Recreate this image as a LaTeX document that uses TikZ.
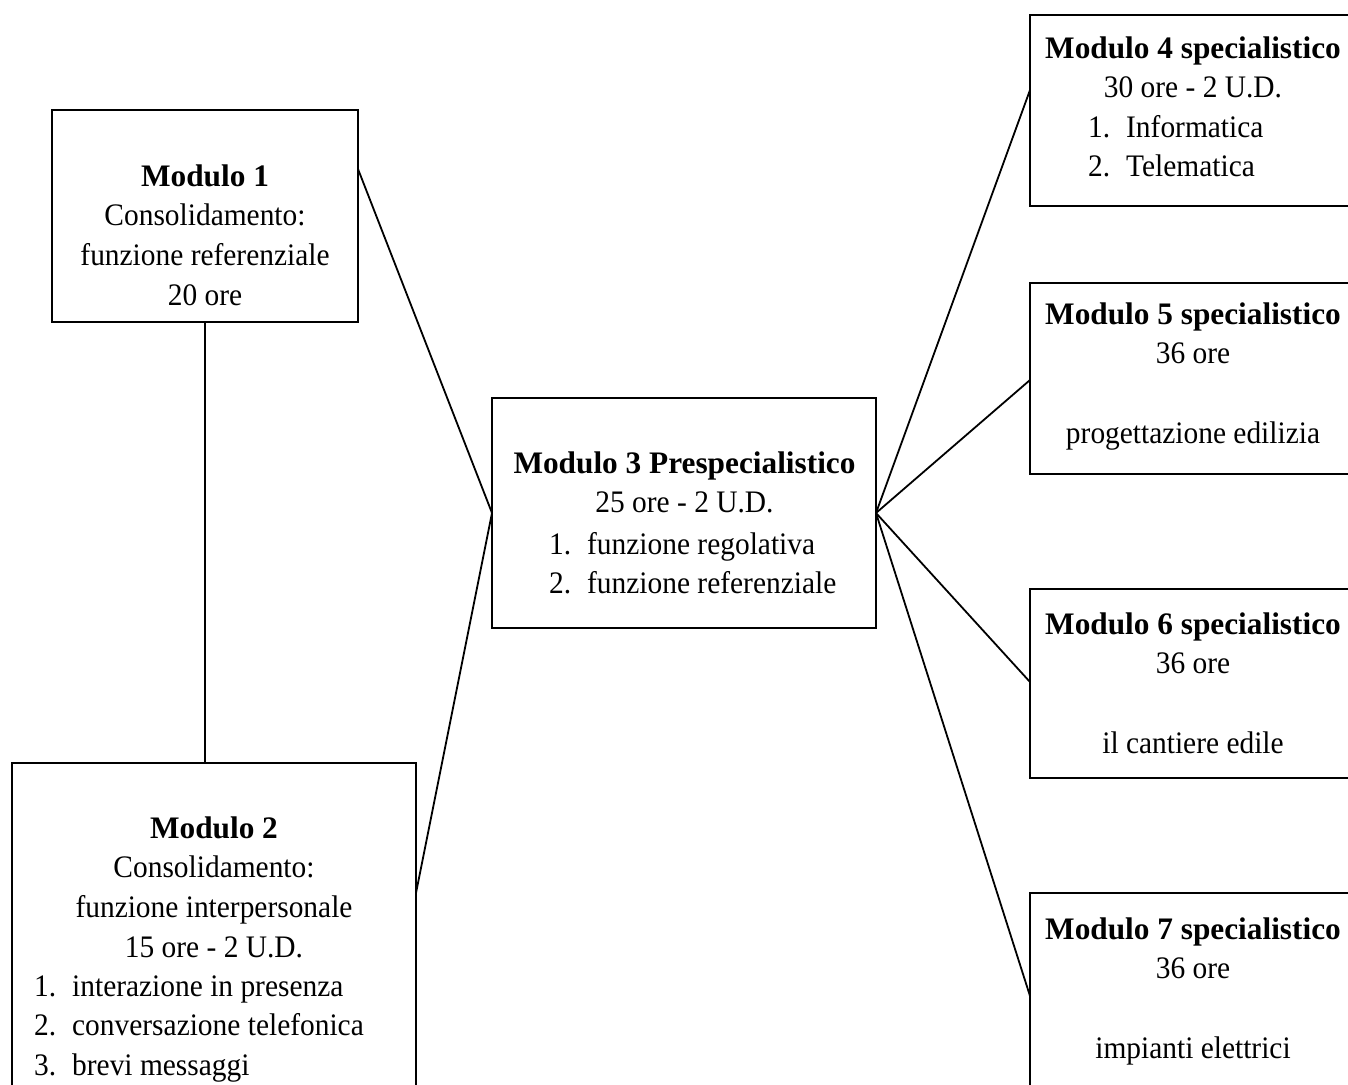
\documentclass[tikz,border=0pt]{standalone}
\usepackage{fontspec}
\setmainfont{Liberation Serif}[UprightFeatures={FakeStretch=0.94}]
\newcommand{\firstln}{\rule{0pt}{24pt}}
\newcommand{\itm}[1]{\makebox[38pt][l]{#1}}
\begin{document}
\begin{tikzpicture}[x=1pt,y=-1pt,
  modbox/.style={draw, line width=1.8pt, rectangle, inner sep=0pt, outer sep=0pt},
  modtext/.style={inner sep=0pt, anchor=north, align=center,
    font=\fontsize{31.3}{39.6}\selectfont},
  modlist/.style={inner sep=0pt, anchor=north west, align=left,
    font=\fontsize{31.3}{39.6}\selectfont},
  link/.style={line width=1.8pt}]
\useasboundingbox (0,0) rectangle (1348,1084);
\clip (0,0) rectangle (1348,1084);

% module boxes
\node[modbox, minimum width=306pt, minimum height=212pt] (b1) at (205,216) {};
\node[modbox, minimum width=404pt, minimum height=347pt] (b2) at (214,936.5) {};
\node[modbox, minimum width=384pt, minimum height=230pt] (b3) at (684,513) {};
\node[modbox, minimum width=326pt, minimum height=191pt] (b4) at (1193,110.5) {};
\node[modbox, minimum width=326pt, minimum height=191pt] (b5) at (1193,378.5) {};
\node[modbox, minimum width=326pt, minimum height=189pt] (b6) at (1193,683.5) {};
\node[modbox, minimum width=326pt, minimum height=217pt] (b7) at (1193,1001.5) {};

% box texts
\node[modtext] (t1) at (205,162) {\firstln\textbf{Modulo 1}\\Consolidamento:\\funzione referenziale\\20 ore};
\node[modtext] (t2) at (214,814) {\firstln\textbf{Modulo 2}\\Consolidamento:\\funzione interpersonale\\15 ore - 2 U.D.};
\node[modlist] (l2) at (34,972) {\firstln\itm{1.}interazione in presenza\\\itm{2.}conversazione telefonica\\\itm{3.}brevi messaggi};
\node[modtext] (t3) at (684.5,449) {\firstln\textbf{Modulo 3 Prespecialistico}\\25 ore - 2 U.D.};
\node[modlist] (l3) at (549,530) {\firstln\itm{1.}funzione regolativa\\\itm{2.}funzione referenziale};
\node[modtext] (t4) at (1193,34) {\firstln\textbf{Modulo 4 specialistico}\\30 ore - 2 U.D.};
\node[modlist] (l4) at (1088,113) {\firstln\itm{1.}Informatica\\\itm{2.}Telematica};
\node[modtext] (t5) at (1193,300) {\firstln\textbf{Modulo 5 specialistico}\\36 ore\\~\\progettazione edilizia};
\node[modtext] (t6) at (1193,610) {\firstln\textbf{Modulo 6 specialistico}\\36 ore\\~\\il cantiere edile};
\node[modtext] (t7) at (1193,915) {\firstln\textbf{Modulo 7 specialistico}\\36 ore\\~\\impianti elettrici};

% connectors
\draw[link] (b1.south) -- (b1.south |- b2.north);
\draw[link] ([yshift=-59pt]b1.north east) -- (b3.west);
\draw[link] ([yshift=-130pt]b2.north east) -- (b3.west);
\draw[link] (b3.east) -- ([yshift=-75pt]b4.north west);
\draw[link] (b3.east) -- ([yshift=-97pt]b5.north west);
\draw[link] (b3.east) -- ([yshift=-93pt]b6.north west);
\draw[link] (b3.east) -- ([yshift=-103pt]b7.north west);
\end{tikzpicture}
\end{document}
